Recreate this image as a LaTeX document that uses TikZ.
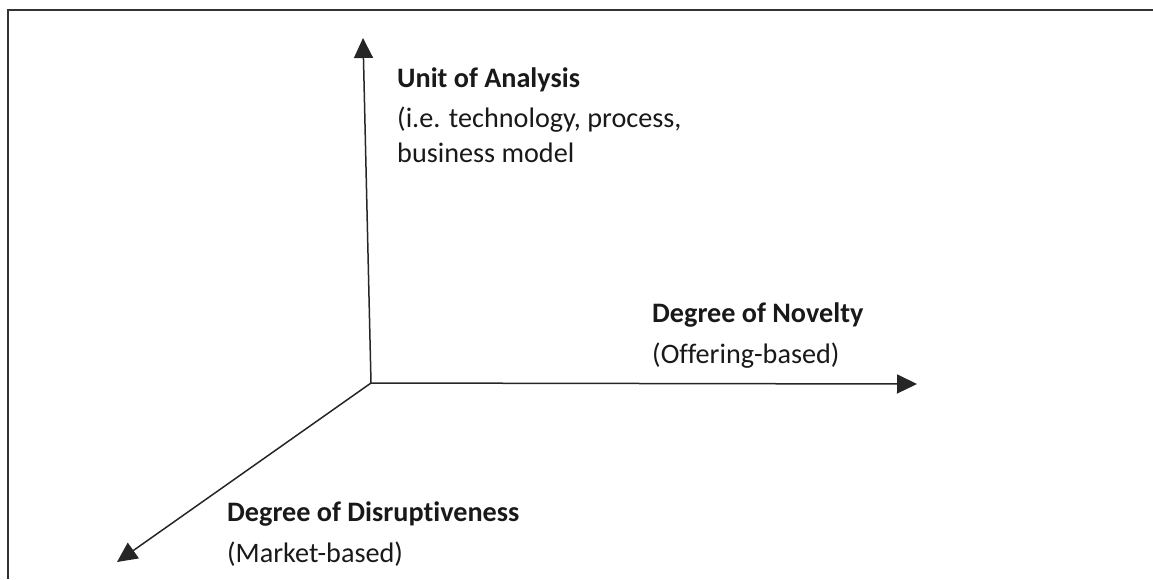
\documentclass[tikz,border=0pt]{standalone}
\usepackage{fontspec}
\setmainfont{Carlito}[Ligatures=NoCommon]
\usetikzlibrary{arrows.meta}
\begin{document}
\begin{tikzpicture}[x=1pt,y=-1pt,
  axis/.style={draw=black!85,line width=1.5pt,-{Triangle[length=20pt,width=19pt]}},
  frame/.style={draw=black!80,line width=2pt},
  lbl/.style={inner sep=0pt,anchor=base west,align=left,text=black!90,
    font=\fontsize{28.2}{34.5}\selectfont}]
\useasboundingbox (0,0) rectangle (1153,579);
\draw[frame] (1153,10) -- (8,10) -- (8,579);
\coordinate (O) at (371,383);
\coordinate (U) at (363,38);
\coordinate (N) at (917,384);
\coordinate (D) at (117,562);
\draw[axis] (O) -- (U);
\draw[axis] (O) -- (N);
\draw[axis] (O) -- (D);
\node[lbl] (ua) at (397,162) {\textbf{Unit of Analysis}\\[6pt](i.e. technology, process,\\business model};
\node[lbl] (dn) at (652,363) {\textbf{Degree of Novelty}\\[6pt](Offering-based)};
\node[lbl] (dd) at (227,562) {\textbf{Degree of Disruptiveness}\\[6pt](Market-based)};
\end{tikzpicture}
\end{document}
